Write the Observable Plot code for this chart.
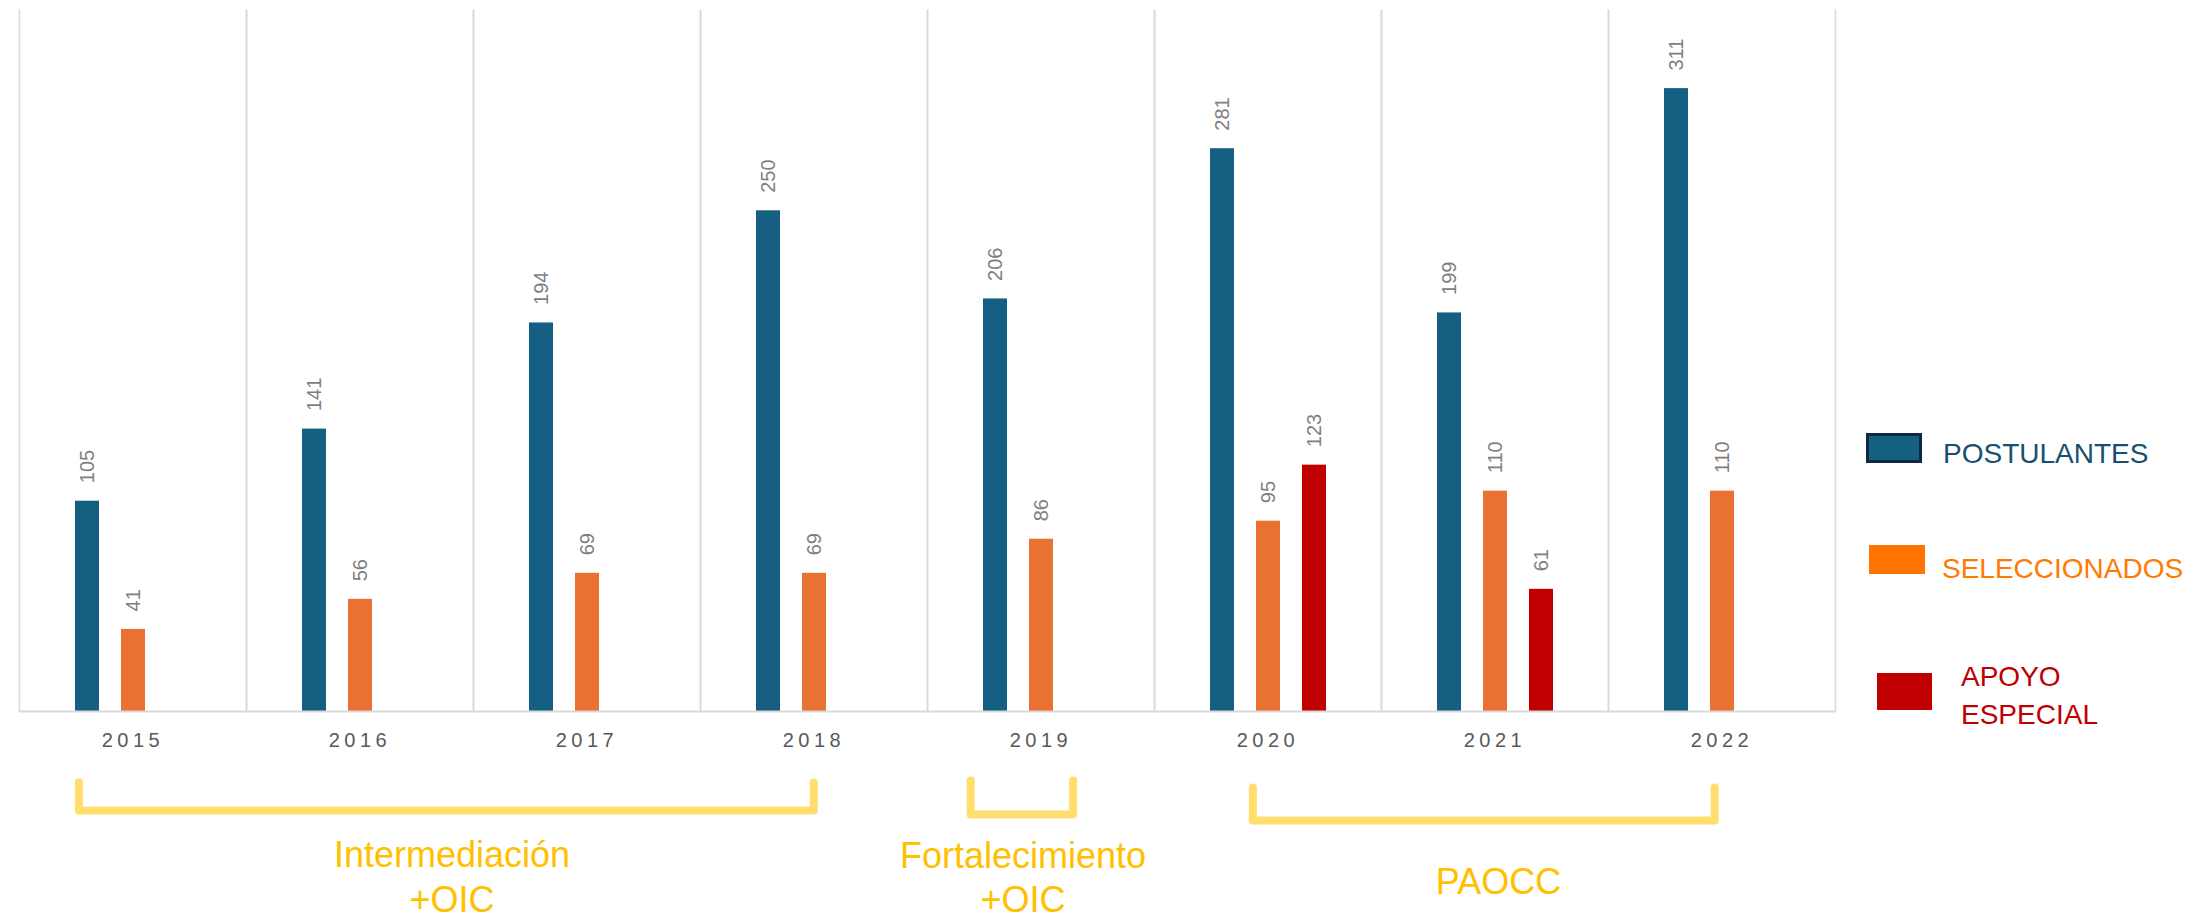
<!DOCTYPE html>
<html>
<head>
<meta charset="utf-8">
<script src="https://cdn.jsdelivr.net/npm/d3@7"></script>
<script src="https://cdn.jsdelivr.net/npm/@observablehq/plot@0.6"></script>
<style>
html, body { margin: 0; padding: 0; background: #ffffff; }
#wrap { position: relative; width: 2195px; height: 919px; overflow: hidden; font-family: "Liberation Sans", Arial, sans-serif; }
#wrap svg { position: absolute; left: 0; top: 0; }
#wrap svg.overlay { pointer-events: none; }
[aria-label^="fx-axis"] text { letter-spacing: 4.5px; font-size: 20px; }
.sw { position: absolute; box-sizing: border-box; }
.lt { position: absolute; font-size: 28px; line-height: 38px; white-space: nowrap; }
</style>
</head>
<body>
<div id="wrap"></div>
<script>
// ---- data ----
const years = ["2015", "2016", "2017", "2018", "2019", "2020", "2021", "2022"];
const series = ["POSTULANTES", "SELECCIONADOS", "APOYO ESPECIAL"];
const postulantes   = [105, 141, 194, 250, 206, 281, 199, 311];
const seleccionados = [41, 56, 69, 69, 86, 95, 110, 110];
const apoyoEspecial = [null, null, null, null, null, 123, 61, null];
const seriesColors = ["#156082", "#E97132", "#C00000"];

// program annotations (year spans on a continuous year axis, depth below the axis in chart units)
const programLabels  = ["Intermediación\n+OIC", "Fortalecimiento\n+OIC", "PAOCC"];
const programFrom    = [2014.77, 2018.69, 2019.93];
const programTo      = [2018.00, 2019.14, 2021.96];
const programTop     = [-35.4, -34.4, -37.9];
const programBottom  = [-49.4, -51.4, -54.4];
const programLabelX  = [2016.41, 2018.92, 2021.01];
const programLabelY  = [-81.6, -81.9, -83.9];

// ---- build tables ----
const values = [postulantes, seleccionados, apoyoEspecial];
const rows = [];
years.forEach((year, i) => {
  series.forEach((s, j) => {
    const v = values[j][i];
    if (v != null) rows.push({year, series: s, value: v});
  });
});

const bracketPts = [];
programLabels.forEach((label, i) => {
  bracketPts.push({label, x: programFrom[i], y: programTop[i]});
  bracketPts.push({label, x: programFrom[i], y: programBottom[i]});
  bracketPts.push({label, x: programTo[i], y: programBottom[i]});
  bracketPts.push({label, x: programTo[i], y: programTop[i]});
});
const programRows = programLabels.map((label, i) => ({label, x: programLabelX[i], y: programLabelY[i]}));

const W = 2195, H = 919;
const margins = {marginLeft: 17, marginRight: 358, marginTop: 10, marginBottom: 208};
const yDomain = [0, 350];
const font = '"Liberation Sans", Arial, sans-serif';

const chart = Plot.plot({
  width: W, height: H, ...margins,
  style: {fontFamily: font, fontSize: "20px", color: "#595959", background: "transparent"},
  fx: {domain: years, padding: 0, axis: "bottom", label: null, tickSize: 0, tickPadding: 21},
  x: {domain: series, paddingInner: 0.489, paddingOuter: 1.165, axis: null},
  y: {domain: yDomain, axis: null},
  color: {domain: series, range: seriesColors},
  marks: [
    Plot.frame({anchor: "left", stroke: "#d9d9d9", strokeWidth: 1.6}),
    Plot.frame({anchor: "right", stroke: "#d9d9d9", strokeWidth: 1.6}),
    Plot.barY(rows, {fx: "year", x: "series", y: "value", fill: "series"}),
    Plot.ruleY([0], {stroke: "#d9d9d9", strokeWidth: 2}),
    Plot.text(rows, {
      fx: "year", x: "series", y: "value", text: d => String(d.value),
      rotate: -90, textAnchor: "start", dy: -18, fill: "#7f7f7f", fontSize: 20
    })
  ]
});

const overlay = Plot.plot({
  width: W, height: H, ...margins,
  style: {fontFamily: font, background: "transparent"},
  x: {domain: [2014.5, 2022.5], axis: null},
  y: {domain: yDomain, axis: null},
  marks: [
    Plot.line(bracketPts, {x: "x", y: "y", z: "label", stroke: "#FFDE6E", strokeWidth: 8, strokeLinejoin: "round"}),
    Plot.text(programRows, {x: "x", y: "y", text: "label", fill: "#FFC000", fontSize: 36, lineHeight: 1.24})
  ]
});
overlay.classList.add("overlay");

const wrap = document.getElementById("wrap");
wrap.appendChild(chart);
wrap.appendChild(overlay);

// ---- legend ----
const legendItems = [
  {label: "POSTULANTES", swatch: {left: 1866, top: 433, w: 56, h: 30, fill: seriesColors[0], border: "3px solid #0E2841"}, text: {left: 1943, top: 435, color: "#17506F"}},
  {label: "SELECCIONADOS", swatch: {left: 1869, top: 545, w: 56, h: 29, fill: "#FF7500", border: "none"}, text: {left: 1942, top: 550, color: "#FF7A00"}},
  {label: "APOYO<br>ESPECIAL", swatch: {left: 1877, top: 673, w: 55, h: 37, fill: seriesColors[2], border: "none"}, text: {left: 1961, top: 658, color: "#C00000"}}
];
legendItems.forEach(it => {
  const s = document.createElement("div");
  s.className = "sw";
  Object.assign(s.style, {left: it.swatch.left + "px", top: it.swatch.top + "px", width: it.swatch.w + "px", height: it.swatch.h + "px", background: it.swatch.fill, border: it.swatch.border});
  wrap.appendChild(s);
  const t = document.createElement("div");
  t.className = "lt";
  t.innerHTML = it.label;
  Object.assign(t.style, {left: it.text.left + "px", top: it.text.top + "px", color: it.text.color});
  wrap.appendChild(t);
});
</script>
</body>
</html>
